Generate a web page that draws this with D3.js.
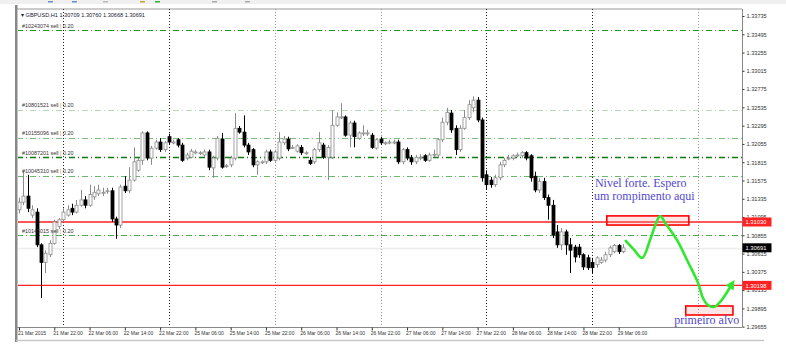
<!DOCTYPE html>
<html><head><meta charset="utf-8">
<script src="https://cdn.jsdelivr.net/npm/d3@7"></script>
<style>body{margin:0;background:#fff}svg{display:block}</style>
</head><body>
<svg id="c" width="786" height="350"></svg>
<script>
// ---------- DATA ----------
const open  = [1.3119,1.3129,1.3137,1.3112,1.3116,1.3073,1.3050,1.3060,1.3075,1.3097,1.3106,1.3112,1.3121,1.3116,1.3125,1.3132,1.3125,1.3136,1.3140,1.3142,
1.3144,1.3144,1.3107,1.3099,1.3150,1.3144,1.3158,1.3171,1.3184,1.3220,1.3187,1.3200,1.3208,1.3198,1.3215,1.3208,1.3211,1.3204,1.3187,1.3188,
1.3195,1.3194,1.3191,1.3195,1.3174,1.3187,1.3212,1.3177,1.3178,1.3187,1.3226,1.3221,1.3204,1.3198,1.3178,1.3182,1.3182,1.3195,1.3184,1.3187,
1.3207,1.3212,1.3201,1.3196,1.3201,1.3194,1.3184,1.3182,1.3198,1.3204,1.3188,1.3188,1.3230,1.3241,1.3241,1.3217,1.3233,1.3213,1.3220,1.3220,
1.3217,1.3200,1.3212,1.3207,1.3208,1.3208,1.3208,1.3182,1.3198,1.3187,1.3182,1.3188,1.3190,1.3184,1.3192,1.3191,1.3211,1.3234,1.3246,1.3226,
1.3198,1.3226,1.3240,1.3253,1.3263,1.3237,1.3165,1.3158,1.3152,1.3161,1.3178,1.3187,1.3187,1.3191,1.3190,1.3194,1.3190,1.3163,1.3145,1.3156,
1.3135,1.3125,1.3090,1.3073,1.3090,1.3073,1.3070,1.3070,1.3060,1.3056,1.3050,1.3047,1.3050,1.3053,1.3060,1.3064,1.3072,1.3064];
const high  = [1.3135,1.3169,1.3165,1.3125,1.3121,1.3075,1.3066,1.3079,1.3106,1.3108,1.3121,1.3125,1.3127,1.3132,1.3145,1.3137,1.3152,1.3150,1.3152,1.3148,
1.3148,1.3148,1.3110,1.3152,1.3163,1.3175,1.3201,1.3187,1.3222,1.3222,1.3203,1.3211,1.3213,1.3209,1.3219,1.3211,1.3213,1.3207,1.3194,1.3199,
1.3198,1.3196,1.3198,1.3198,1.3190,1.3216,1.3220,1.3179,1.3190,1.3246,1.3229,1.3243,1.3207,1.3200,1.3184,1.3184,1.3198,1.3198,1.3198,1.3221,
1.3216,1.3215,1.3204,1.3205,1.3204,1.3196,1.3188,1.3200,1.3221,1.3207,1.3204,1.3250,1.3247,1.3259,1.3243,1.3236,1.3236,1.3222,1.3230,1.3224,
1.3220,1.3213,1.3215,1.3209,1.3211,1.3211,1.3211,1.3200,1.3201,1.3191,1.3191,1.3192,1.3192,1.3194,1.3198,1.3213,1.3240,1.3253,1.3250,1.3230,
1.3230,1.3250,1.3263,1.3268,1.3267,1.3240,1.3171,1.3162,1.3165,1.3182,1.3187,1.3191,1.3192,1.3194,1.3196,1.3196,1.3192,1.3169,1.3161,1.3161,
1.3139,1.3132,1.3099,1.3095,1.3093,1.3082,1.3073,1.3074,1.3062,1.3060,1.3056,1.3058,1.3057,1.3064,1.3072,1.3074,1.3074,1.3074];
const low   = [1.3114,1.3125,1.3116,1.3108,1.3070,1.3003,1.3036,1.3057,1.3073,1.3094,1.3103,1.3110,1.3112,1.3114,1.3123,1.3121,1.3123,1.3132,1.3137,1.3137,
1.3140,1.3103,1.3081,1.3095,1.3141,1.3141,1.3156,1.3169,1.3178,1.3184,1.3178,1.3198,1.3195,1.3195,1.3205,1.3205,1.3201,1.3182,1.3184,1.3187,
1.3192,1.3191,1.3188,1.3171,1.3161,1.3184,1.3173,1.3174,1.3175,1.3184,1.3219,1.3201,1.3191,1.3175,1.3165,1.3179,1.3179,1.3182,1.3182,1.3184,
1.3204,1.3196,1.3199,1.3194,1.3191,1.3191,1.3178,1.3179,1.3195,1.3186,1.3158,1.3186,1.3228,1.3238,1.3215,1.3201,1.3201,1.3211,1.3216,1.3216,
1.3199,1.3198,1.3204,1.3204,1.3205,1.3205,1.3179,1.3179,1.3184,1.3178,1.3179,1.3184,1.3182,1.3182,1.3188,1.3187,1.3208,1.3230,1.3220,1.3191,
1.3195,1.3224,1.3237,1.3247,1.3234,1.3156,1.3145,1.3148,1.3149,1.3158,1.3175,1.3184,1.3184,1.3188,1.3187,1.3184,1.3156,1.3142,1.3141,1.3132,
1.3106,1.3082,1.3069,1.3066,1.3060,1.3036,1.3050,1.3056,1.3040,1.3040,1.3036,1.3043,1.3048,1.3050,1.3057,1.3062,1.3061,1.3062];
const close = [1.3129,1.3137,1.3121,1.3119,1.3073,1.3050,1.3062,1.3075,1.3103,1.3106,1.3116,1.3119,1.3116,1.3125,1.3132,1.3125,1.3139,1.3142,1.3145,1.3142,
1.3144,1.3107,1.3099,1.3149,1.3144,1.3158,1.3182,1.3184,1.3220,1.3187,1.3200,1.3208,1.3198,1.3207,1.3208,1.3208,1.3204,1.3184,1.3191,1.3196,
1.3195,1.3194,1.3195,1.3175,1.3187,1.3213,1.3175,1.3177,1.3187,1.3226,1.3221,1.3204,1.3195,1.3178,1.3182,1.3182,1.3195,1.3184,1.3195,1.3208,
1.3212,1.3199,1.3201,1.3203,1.3194,1.3194,1.3180,1.3198,1.3207,1.3188,1.3201,1.3230,1.3241,1.3241,1.3217,1.3233,1.3215,1.3220,1.3220,1.3220,
1.3201,1.3211,1.3207,1.3207,1.3208,1.3208,1.3182,1.3198,1.3187,1.3182,1.3188,1.3188,1.3184,1.3191,1.3192,1.3211,1.3234,1.3247,1.3224,1.3198,
1.3226,1.3240,1.3257,1.3263,1.3237,1.3161,1.3152,1.3152,1.3161,1.3178,1.3184,1.3187,1.3190,1.3191,1.3194,1.3187,1.3161,1.3145,1.3156,1.3135,
1.3125,1.3086,1.3073,1.3090,1.3073,1.3066,1.3057,1.3060,1.3044,1.3043,1.3043,1.3056,1.3053,1.3060,1.3069,1.3072,1.3064,1.3069];

const timeTickBars = [0,8,16,24,32,40,48,56,64,72,80,88,96,104,112,120,128,136];
const timeLabels = ["21 Mar 2015","21 Mar 22:00","22 Mar 06:00","22 Mar 14:00","22 Mar 22:00","25 Mar 06:00","25 Mar 14:00","25 Mar 22:00","26 Mar 06:00","26 Mar 14:00","26 Mar 22:00","27 Mar 06:00","27 Mar 14:00","27 Mar 22:00","28 Mar 06:00","28 Mar 14:00","28 Mar 22:00","29 Mar 06:00"];
const priceTicks = [1.29655,1.29895,1.30135,1.30375,1.30615,1.30855,1.31095,1.31335,1.31575,1.31815,1.32055,1.32295,1.32535,1.32775,1.33015,1.33255,1.33495,1.33735];

const separatorBars = [10,34,58,82,106,130,154];
const separatorDark = [true,true,false,false,true,true,false];

const orderTickets = ["#10243074","#10801521","#10155096","#10087201","#10045310","#10145015"];
const orderPrices  = [1.33551,1.32501,1.32133,1.31883,1.31634,1.30859];
const orderLots    = ["0.20","0.20","0.20","0.20","0.20","0.20"];

const redLevels = [1.31030,1.30198];
const bidPrice = 1.30691;
const headerText = "GBPUSD,H1  1.30709 1.30760 1.30668 1.30691";

// annotations (bar index / price)
const greenIdx   = [137.6,139.5,141.3,143.1,144.4,145.4,146.7,149.2,151.7,154.0,155.1,156.2,157.6,159.0,160.3,161.7];
const greenPrice = [1.30781,1.30663,1.30558,1.30794,1.31004,1.31109,1.31004,1.30794,1.30505,1.30229,1.30032,1.29940,1.29914,1.29980,1.30085,1.30216];
const boxIdx   = [[133.3,151.9],[151.2,161.9]];
const boxPrice = [[1.3111,1.3099],[1.29927,1.29809]];
const noteLines = ["Nivel forte. Espero","um rompimento aqui","primeiro alvo"];
const noteIdx   = [130.6,130.4,148.6];
const notePrice = [1.31490,1.31319,1.29691];

// ---------- CHART ----------
const svg = d3.select("#c");
const L = 17, R = 742, T = 9, B = 327;
const x = d3.scaleLinear().domain([0,164]).range([19,742.2]);
const y = d3.scaleLinear().domain([1.29655,1.33735]).range([326.7,16]);
const bars = d3.range(close.length);
const sans = "Liberation Sans, Arial, sans-serif";

// top strip
svg.append("rect").attr("x",0).attr("y",0).attr("width",786).attr("height",4).attr("fill","#f0f0f0");
[[48,"#6a8fd0"],[72,"#6a8fd0"],[103,"#bbb"],[140,"#c8a040"],[155,"#30b030"],[212,"#aaa"],[245,"#aaa"]].forEach(d=>{
  svg.append("rect").attr("x",d[0]).attr("y",1).attr("width",5).attr("height",1.5).attr("fill",d[1]);
});

// frame
svg.append("rect").attr("x",15).attr("y",5).attr("width",2.5).attr("height",337).attr("fill","#888");
svg.append("line").attr("x1",L).attr("x2",R).attr("y1",T).attr("y2",T).attr("stroke","#999");
svg.append("line").attr("x1",16).attr("x2",764).attr("y1",340.5).attr("y2",340.5).attr("stroke","#c8c8c8").attr("stroke-width",1.5);

svg.append("defs").append("clipPath").attr("id","pc").append("rect")
  .attr("x",L+1).attr("y",T).attr("width",R-L-1).attr("height",B-T);
const plot = svg.append("g").attr("clip-path","url(#pc)");

// separators
plot.selectAll("line.sep").data(separatorBars).join("line").attr("class","sep")
  .attr("x1",d=>Math.round(x(d))+0.5).attr("x2",d=>Math.round(x(d))+0.5)
  .attr("y1",T).attr("y2",B)
  .attr("stroke",(d,i)=>separatorDark[i]?"#222":"#999")
  .attr("stroke-dasharray","1,2");

// bid line
plot.append("line").attr("x1",L).attr("x2",R).attr("y1",Math.round(y(bidPrice))+0.5).attr("y2",Math.round(y(bidPrice))+0.5)
  .attr("stroke","#ececec").attr("stroke-width",1.5);

// order lines
const orderColors = ["#1f9a1f","#b5dbb5","#7cc07c","#137a13","#6cb86c","#4ea84e"];
const orderWidths = [1,1,1,1.3,1,1];
plot.selectAll("line.ord").data(orderPrices).join("line").attr("class","ord")
  .attr("x1",L).attr("x2",R).attr("y1",d=>Math.round(y(d))+0.5).attr("y2",d=>Math.round(y(d))+0.5)
  .attr("stroke",(d,i)=>orderColors[i]).attr("stroke-width",(d,i)=>orderWidths[i])
  .attr("stroke-dasharray","6,3,1,3");

// red levels
plot.selectAll("line.red").data(redLevels).join("line").attr("class","red")
  .attr("x1",L).attr("x2",R).attr("y1",d=>y(d)).attr("y2",d=>y(d))
  .attr("stroke","#f22").attr("stroke-width",1.4);

// candles
const bw = 3;
const up = i => close[i] >= open[i];
plot.selectAll("line.wick").data(bars).join("line").attr("class","wick")
  .attr("x1",i=>Math.round(x(i))+0.5).attr("x2",i=>Math.round(x(i))+0.5)
  .attr("y1",i=>y(high[i])).attr("y2",i=>y(low[i]))
  .attr("stroke",i=>up(i)?"#8c8c8c":"#000").attr("stroke-width",1);
plot.selectAll("rect.body").data(bars).join("rect").attr("class","body")
  .attr("x",i=>Math.round(x(i))-1)
  .attr("y",i=>y(Math.max(open[i],close[i])))
  .attr("width",bw)
  .attr("height",i=>Math.max(1,Math.abs(y(open[i])-y(close[i]))))
  .attr("fill",i=>up(i)?"#fff":"#000")
  .attr("stroke",i=>up(i)?"#8c8c8c":"#000").attr("stroke-width",0.8);

// order labels
const oLab = svg.selectAll("text.ol").data(orderPrices).join("text").attr("class","ol")
  .attr("x",22).attr("y",d=>y(d)-2.5)
  .attr("font-family",sans).attr("font-size",5.4).attr("fill","#333");
oLab.append("tspan").text((d,i)=>orderTickets[i]+" sell ");
oLab.append("tspan").attr("fill","#c08020").text("| ");
oLab.append("tspan").text((d,i)=>orderLots[i]);

// header
svg.append("text").attr("x",21).attr("y",17).attr("font-family",sans)
  .attr("font-size",5.6).attr("fill","#223").text("\u25BE " + headerText);

// right axis
const ya = svg.append("g").attr("transform",`translate(${R+0.5},0)`)
  .call(d3.axisRight(y).tickValues(priceTicks).tickFormat(d3.format(".5f")).tickSize(2).tickPadding(2));
ya.select(".domain").attr("stroke","#888").attr("d",`M0,${T}V${B}`);
ya.selectAll(".tick line").attr("stroke","#333");
ya.selectAll("text").attr("font-family",sans).attr("font-size",5.6).attr("fill","#333");

// bottom axis
const xa = svg.append("g").attr("transform",`translate(0,${B+0.5})`)
  .call(d3.axisBottom(x).tickValues(timeTickBars).tickFormat((d,i)=>timeLabels[i]).tickSize(3).tickPadding(2));
xa.select(".domain").attr("stroke","#888").attr("d",`M${L},0H${R}`);
xa.selectAll(".tick line").attr("stroke","#333");
xa.selectAll("text").attr("text-anchor","start").attr("dx",-1.5).attr("dy","0.55em")
  .attr("font-family",sans).attr("font-size",5.0).attr("fill","#333");

// price labels on axis (red levels, bid)
function axisBox(price, bg, fg, txt){
  const g = svg.append("g").attr("transform",`translate(${R},${y(price)})`);
  g.append("rect").attr("x",0.5).attr("y",-4.5).attr("width",29).attr("height",9).attr("fill",bg);
  g.append("text").attr("x",3.5).attr("y",2.2).attr("font-family",sans)
    .attr("font-size",5.8).attr("fill",fg).text(txt);
}
redLevels.forEach(p=>axisBox(p,"#f22","#fff",d3.format(".5f")(p)));
axisBox(bidPrice,"#000","#fff",d3.format(".5f")(bidPrice));

// annotations
const ann = svg.append("g");
ann.selectAll("rect.box").data(boxIdx).join("rect").attr("class","box")
  .attr("x",d=>x(d[0])).attr("width",d=>x(d[1])-x(d[0]))
  .attr("y",(d,i)=>y(boxPrice[i][0])).attr("height",(d,i)=>y(boxPrice[i][1])-y(boxPrice[i][0]))
  .attr("fill","rgba(255,140,140,0.22)").attr("stroke","#f00").attr("stroke-width",1.6);

svg.append("defs").append("marker").attr("id","ah").attr("viewBox","0 0 10 10").attr("refX",5).attr("refY",5)
  .attr("markerWidth",3.6).attr("markerHeight",3.6).attr("orient","auto")
  .append("path").attr("d","M0,0L10,5L0,10z").attr("fill","#2ee82e");
const gLine = d3.line().x(d=>x(d[0])).y(d=>y(d[1])).curve(d3.curveCatmullRom.alpha(0.5));
ann.append("path").datum(greenIdx.map((v,i)=>[v,greenPrice[i]]))
  .attr("d",gLine).attr("fill","none").attr("stroke","#2ee82e").attr("stroke-width",2.6)
  .attr("stroke-linecap","round").attr("stroke-linejoin","round").attr("marker-end","url(#ah)");

ann.selectAll("text.note").data(noteLines).join("text").attr("class","note")
  .attr("x",(d,i)=>x(noteIdx[i])).attr("y",(d,i)=>y(notePrice[i]))
  .attr("font-family","Liberation Serif, Times New Roman, serif").attr("font-size",12)
  .attr("fill","#5248d0").text(d=>d);
</script>
</body></html>
